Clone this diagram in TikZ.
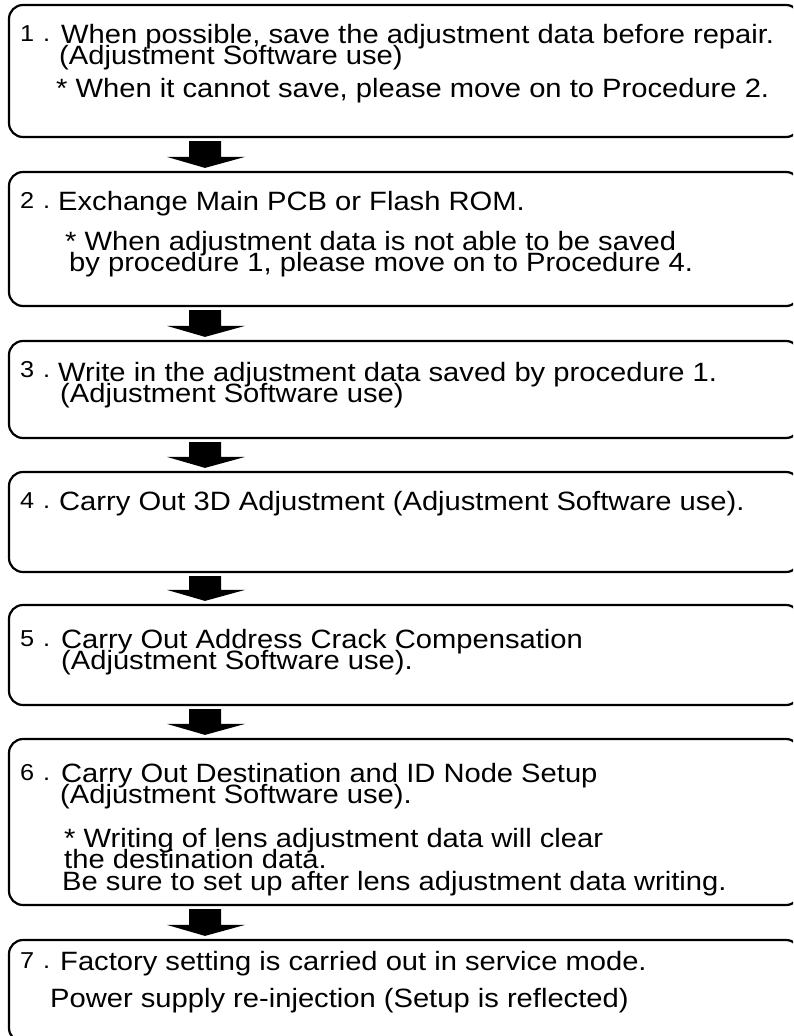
\documentclass[tikz,border=0pt]{standalone}
\usepackage{fontspec}
\setmainfont{Liberation Sans}[FakeStretch=1.1]
\usetikzlibrary{calc}
\tikzset{
  box/.style={draw, line width=2.2pt, rounded corners=14pt, inner sep=0pt, minimum width=791pt},
  txt/.style={anchor=base west, inner sep=0pt, font=\fontsize{26.5}{28}\selectfont},
  num/.style={anchor=base west, inner sep=0pt, font=\fontsize{23}{24}\selectfont},
  blk/.style={fill=black, draw=none}
}
\newcommand\flowarrow[2]{%
  \path[blk] let \p1=(#1.south), \p2=(#2.north) in
    (189pt,\y1-3pt) -- (221pt,\y1-3pt) -- (221pt,\y2+14pt) -- (245pt,\y2+14pt)
    -- (205pt,\y2+3pt) -- (167pt,\y2+14pt) -- (189pt,\y2+14pt) -- cycle;}
\newcommand\stepno[1]{#1\kern 9pt.}
\begin{document}
\begin{tikzpicture}[x=1pt,y=-1pt]
\path[use as bounding box] (0,0) rectangle (793,1036);
\clip (0,0) rectangle (793,1036);
% boxes
\node[box, minimum height=132pt] (b1) at (404.5,71) {};
\node[box, minimum height=134pt] (b2) at (404.5,239) {};
\node[box, minimum height=97pt]  (b3) at (404.5,389.5) {};
\node[box, minimum height=100pt] (b4) at (404.5,522) {};
\node[box, minimum height=100pt] (b5) at (404.5,655) {};
\node[box, minimum height=166pt] (b6) at (404.5,822) {};
\node[box, minimum height=102pt] (b7) at (404.5,991) {};
% arrows
\flowarrow{b1}{b2}
\flowarrow{b2}{b3}
\flowarrow{b3}{b4}
\flowarrow{b4}{b5}
\flowarrow{b5}{b6}
\flowarrow{b6}{b7}
% box 1
\node[num] (n1) at (20,41) {\stepno{1}};
\node[txt] (t1a) at (61,43) {When possible, save the adjustment data before repair.};
\node[txt] (t1b) at (59,64) {(Adjustment Software use)};
\node[txt] (t1c) at (56,97) {* When it cannot save, please move on to Procedure 2.};
% box 2
\node[num] (n2) at (20,208) {\stepno{2}};
\node[txt] (t2a) at (58,210) {Exchange Main PCB or Flash ROM.};
\node[txt] (t2b) at (65,250) {* When adjustment data is not able to be saved};
\node[txt] (t2c) at (69,271) {by procedure 1, please move on to Procedure 4.};
% box 3
\node[num] (n3) at (20,377) {\stepno{3}};
\node[txt] (t3a) at (58,381) {Write in the adjustment data saved by procedure 1.};
\node[txt] (t3b) at (60,402) {(Adjustment Software use)};
% box 4
\node[num] (n4) at (20,508) {\stepno{4}};
\node[txt] (t4a) at (59,510) {Carry Out 3D Adjustment (Adjustment Software use).};
% box 5
\node[num] (n5) at (20,646) {\stepno{5}};
\node[txt] (t5a) at (61,648) {Carry Out Address Crack Compensation};
\node[txt] (t5b) at (61,669) {(Adjustment Software use).};
% box 6
\node[num] (n6) at (20,780) {\stepno{6}};
\node[txt] (t6a) at (61,782) {Carry Out Destination and ID Node Setup};
\node[txt] (t6b) at (60,803) {(Adjustment Software use).};
\node[txt] (t6c) at (64,847) {* Writing of lens adjustment data will clear};
\node[txt] (t6d) at (64,868) {the destination data.};
\node[txt] (t6e) at (62,890) {Be sure to set up after lens adjustment data writing.};
% box 7
\node[num] (n7) at (20,968) {\stepno{7}};
\node[txt] (t7a) at (60,970) {Factory setting is carried out in service mode.};
\node[txt] (t7b) at (50,1007) {Power supply re-injection (Setup is reflected)};
\end{tikzpicture}
\end{document}
